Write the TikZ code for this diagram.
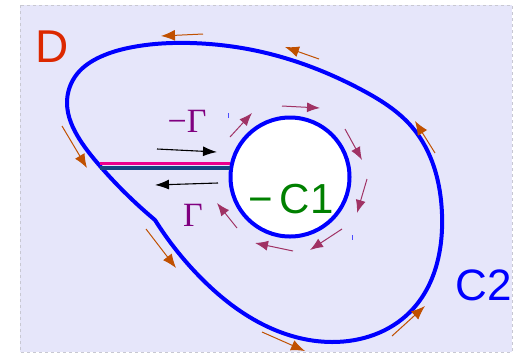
\documentclass[tikz,border=0pt]{standalone}
\usepackage{fontspec}
\setmainfont{Liberation Sans}
\newfontfamily\serifgamma{Liberation Serif}
\usetikzlibrary{arrows.meta,hobby}
\definecolor{bgc}{RGB}{230,230,250}
\definecolor{framec}{RGB}{200,200,210}
\definecolor{orangec}{RGB}{192,80,0}
\definecolor{plumc}{RGB}{160,50,100}
\definecolor{gammac}{RGB}{128,0,128}
\definecolor{slitdark}{RGB}{20,70,130}
\definecolor{dred}{RGB}{220,40,0}
\definecolor{cgreen}{RGB}{0,128,0}
\tikzset{
  oarr/.style={orangec, line width=1pt, -{Latex[length=14pt,width=11pt]}},
  parr/.style={plumc, line width=1pt, -{Latex[length=13pt,width=10pt]}},
  karr/.style={black, line width=1.1pt, -{Latex[length=14pt,width=10pt]}},
  contour/.style={blue, line width=4pt},
}
\begin{document}
\begin{tikzpicture}[x=1pt,y=-1pt]
\useasboundingbox (0,0) rectangle (524,354);
\fill[bgc] (20,5) rectangle (512,352);
\draw[framec, dashed, line width=0.8pt] (20,5) rectangle (512,352);
% outer contour C2
\draw[contour, line join=round, use Hobby shortcut] (155,220) .. (200,277) .. (262,324) .. (332,342) .. (410,312) .. (442,214) .. (412,127) .. (362,90) .. (262,52) .. (190,43) .. (133,47) .. (100,57) .. (77,74) .. (67,103) .. (80,140) .. (100,166) .. (155,220);
% inner circle C1
\node[circle, draw=blue, fill=white, line width=4pt, minimum size=119pt, inner sep=0pt] (c1) at (290,177) {};
% slit
\coordinate (sl1) at (100,163);
\coordinate (sr1) at (230,163);
\coordinate (sl2) at (100,168);
\coordinate (sr2) at (230,168);
\draw[slitdark, line width=3.2pt] (sl2) -- (sr2);
\draw[magenta, line width=3pt] (sl1) -- (sr1);
% black arrows
\coordinate (ka1) at (157,149); \coordinate (kb1) at (217,152);
\coordinate (ka2) at (218,183); \coordinate (kb2) at (155,185);
\draw[karr] (ka1) -- (kb1);
\draw[karr] (ka2) -- (kb2);
% orange arrows
\coordinate (o1a) at (203,34);  \coordinate (o1b) at (161,36);
\coordinate (o2a) at (319,59);  \coordinate (o2b) at (285,47);
\coordinate (o3a) at (435,153); \coordinate (o3b) at (415,121);
\coordinate (o4a) at (392,336); \coordinate (o4b) at (425,306);
\coordinate (o5a) at (262,332); \coordinate (o5b) at (305,351);
\coordinate (o6a) at (146,229); \coordinate (o6b) at (176,268);
\coordinate (o7a) at (62,126);  \coordinate (o7b) at (87,168);
\foreach \i in {1,...,7}{\draw[oarr] (o\i a) -- (o\i b);}
% plum arrows
\coordinate (p1a) at (230,137); \coordinate (p1b) at (252,113);
\coordinate (p2a) at (282,106); \coordinate (p2b) at (320,108);
\coordinate (p3a) at (345,129); \coordinate (p3b) at (362,160);
\coordinate (p4a) at (367,179); \coordinate (p4b) at (357,213);
\coordinate (p5a) at (342,229); \coordinate (p5b) at (310,250);
\coordinate (p6a) at (293,251); \coordinate (p6b) at (255,243);
\coordinate (p7a) at (237,228); \coordinate (p7b) at (217,203);
\foreach \i in {1,...,7}{\draw[parr] (p\i a) -- (p\i b);}
% tiny ticks
\coordinate (t1a) at (228,113); \coordinate (t1b) at (228,118);
\coordinate (t2a) at (352,235); \coordinate (t2b) at (352,240);
\draw[blue!70, line width=1pt] (t1a) -- (t1b);
\draw[blue!70, line width=1pt] (t2a) -- (t2b);
% labels
\node[text=dred, font=\fontsize{46}{46}\selectfont, inner sep=0pt] (D) at (52,47) {D};
\node[text=blue, font=\fontsize{44}{44}\selectfont, inner sep=0pt] (C2) at (484,285) {C2};
\node[text=cgreen, font=\fontsize{42}{42}\selectfont, inner sep=0pt] (mC1) at (291,199) {\char"2212\,C1};
\node[text=gammac, font=\serifgamma\fontsize{34}{34}\selectfont, inner sep=0pt] (mG) at (187,121) {\char"2212\char"0393};
\node[text=gammac, font=\serifgamma\fontsize{34}{34}\selectfont, inner sep=0pt] (G) at (193,215) {\char"0393};
\end{tikzpicture}
\end{document}
